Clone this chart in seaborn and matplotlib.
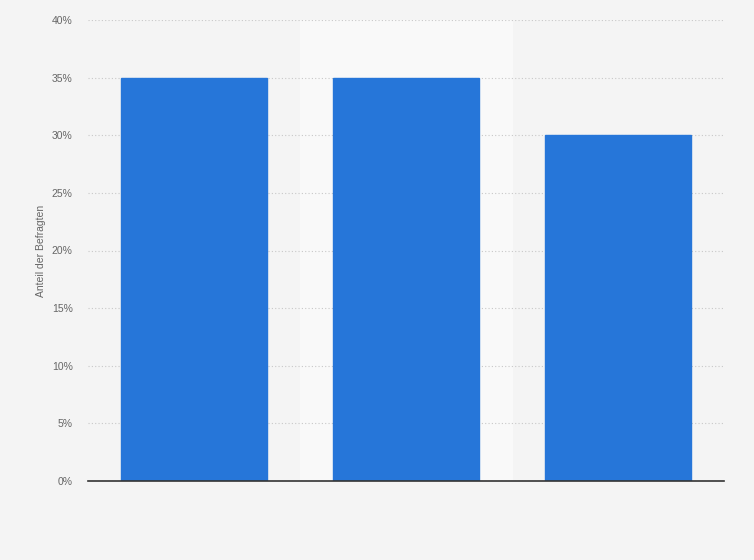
import pandas as pd
import seaborn as sns
import matplotlib.pyplot as plt
from matplotlib.ticker import FuncFormatter

categories = ["A", "B", "C"]
shares = [35, 35, 30]
y_label = "Anteil der Befragten"

df = pd.DataFrame({"category": categories, "share": shares})

sns.set_style("white")
plt.rcParams['font.family'] = ['Liberation Sans', 'DejaVu Sans']

fig = plt.figure(figsize=(7.54, 5.6), dpi=100)
fig.patch.set_facecolor('#f4f4f4')
ax = fig.add_axes([88 / 754, 1 - 481 / 560, 636 / 754, 461 / 560])
ax.set_facecolor('#f4f4f4')

# highlighted middle column
ax.axvspan(0.5, 1.5, color='#f9f9f9', zorder=0)

sns.barplot(data=df, x="category", y="share", color="#2676d9", width=0.69,
            saturation=1, edgecolor="#2676d9", ax=ax, zorder=2)

ax.set_xlim(-0.5, 2.5)
ax.set_ylim(0, 40)
ax.set_yticks(range(0, 41, 5))
ax.yaxis.set_major_formatter(FuncFormatter(lambda v, _: f"{int(v)}%"))
ax.grid(axis='y', linestyle=(0, (1, 2)), color='#c8c8c8', linewidth=0.8, zorder=1)
ax.set_axisbelow(True)

for side in ['top', 'right', 'left']:
    ax.spines[side].set_visible(False)
ax.spines['bottom'].set_color('#333333')
ax.spines['bottom'].set_linewidth(1.2)
ax.spines['bottom'].set_zorder(3)

ax.set_xticks([])
ax.set_xlabel("")
ax.tick_params(axis='y', length=0, pad=11, labelsize=7.5, labelcolor='#666666')
ax.set_ylabel(y_label, fontsize=7.5, color='#666666', labelpad=4)

fig.savefig("out.png", dpi=100, facecolor=fig.get_facecolor())
